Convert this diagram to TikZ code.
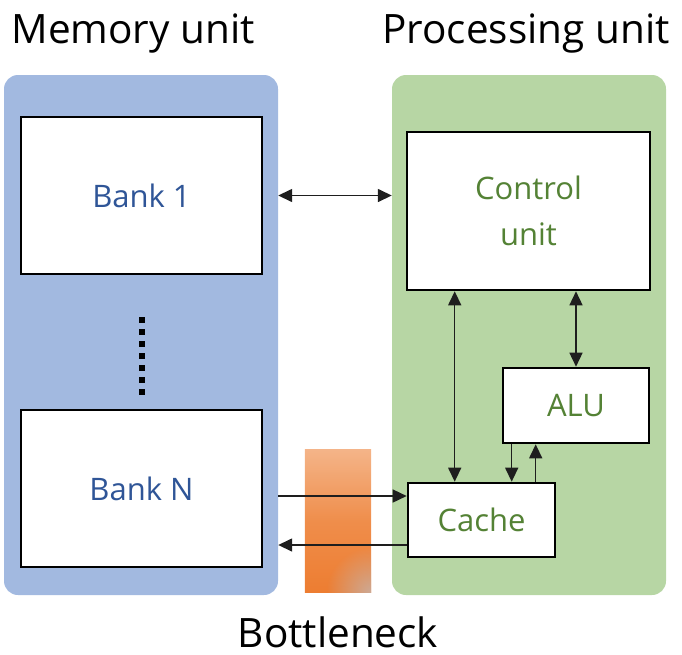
\documentclass[tikz,border=0pt]{standalone}
\usepackage{fontspec}
\setmainfont{Open Sans}
\usetikzlibrary{arrows.meta,fadings,calc}

\definecolor{memfill}{RGB}{162,185,224}
\definecolor{procfill}{RGB}{183,214,164}
\definecolor{memtext}{RGB}{47,85,151}
\definecolor{proctext}{RGB}{84,130,53}
\definecolor{neckhi}{RGB}{244,180,136}
\definecolor{necklo}{RGB}{237,125,49}
\definecolor{neckgrey}{RGB}{205,170,150}

\tikzfading[name=softspot, inner color=transparent!0, outer color=transparent!100]

\tikzset{
  panel/.style={rounded corners=14pt, draw=none, inner sep=0pt},
  unitbox/.style={draw=black, line width=2.6pt, fill=white, inner sep=0pt},
  memlabel/.style={text=memtext, font=\fontsize{31}{36}\selectfont},
  proclabel/.style={text=proctext, font=\fontsize{31}{46}\selectfont, align=center},
  heading/.style={font=\fontsize{40.5}{48}\selectfont, anchor=base, inner sep=0pt},
  tip/.style={Triangle[length=14pt,width=13pt]},
  link/.style={line width=1.5pt, draw={rgb,255:red,30;green,30;blue,30},
    {Triangle[length=14pt,width=13pt]}-{Triangle[length=14pt,width=13pt]}},
  oneway/.style={line width=1.5pt, draw={rgb,255:red,30;green,30;blue,30},
    -{Triangle[length=14pt,width=13pt]}},
}

\begin{document}
\begin{tikzpicture}[x=1pt,y=-1pt]
\useasboundingbox (0,0) rectangle (682,654);

% panels
\node[panel, fill=memfill, minimum width=274pt, minimum height=520pt] (mem) at (141,335) {};
\node[panel, fill=procfill, minimum width=274pt, minimum height=520pt] (proc) at (529,335) {};

% headings
\node[heading] (memtitle) at (133,43) {Memory unit};
\node[heading] (proctitle) at (526,43) {Processing unit};
\node[heading] (necktitle) at (338,647) {Bottleneck};

% memory banks
\node[unitbox, minimum width=241pt, minimum height=157pt, memlabel] (bank1) at (141.5,195.5) {Bank 1};
\node[unitbox, minimum width=241pt, minimum height=157pt, memlabel] (bankN) at (141.5,488.5) {Bank N};

% ellipsis between the banks
\foreach \k in {0,...,6}
  \fill[black] ($(bank1.south)+(-3,42+12*\k)$) rectangle ++(6,6);

% processing unit blocks
\node[unitbox, minimum width=243pt, minimum height=158pt, proclabel] (ctrl) at (528.5,211) {Control\\unit};
\node[unitbox, minimum width=146pt, minimum height=75pt, proclabel] (alu) at (576,405.5) {ALU};
\node[unitbox, minimum width=147pt, minimum height=74pt, proclabel] (cache) at (481.5,520) {Cache};

% bottleneck band
\node[minimum width=66pt, minimum height=142pt, inner sep=0pt] (neck) at (338,521) {};
\begin{scope}
  \clip (neck.north west) rectangle (neck.south east);
  \shade[top color=neckhi, bottom color=necklo, middle color=necklo!70!neckhi]
    (neck.north west) rectangle (neck.south east);
  \fill[neckgrey, path fading=softspot] (neck.south east) circle (45pt);
\end{scope}

% connectors
\draw[link] (mem.east |- bank1) -- (proc.west |- bank1);

\coordinate (toC) at ([yshift=24pt]cache.west);
\coordinate (fromC) at ([yshift=-25pt]cache.west);
\draw[oneway] (mem.east |- toC) -- (toC);
\draw[oneway] (fromC) -- (mem.east |- fromC);

\coordinate (cv) at ([xshift=48pt]cache.north west);
\draw[link] (ctrl.south -| cv) -- (cv);
\draw[link] (ctrl.south -| alu.north) -- (alu.north);

\coordinate (ad) at ([xshift=10pt]alu.south west);
\coordinate (au) at ([xshift=34pt]alu.south west);
\draw[oneway] (ad) -- (cache.north -| ad);
\draw[oneway] (cache.north -| au) -- (au);
\end{tikzpicture}
\end{document}
